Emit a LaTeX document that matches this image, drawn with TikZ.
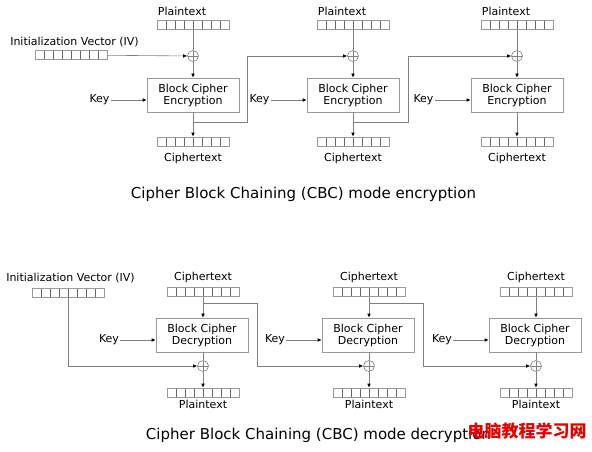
\documentclass[tikz,border=0pt]{standalone}
\usepackage{fontspec}
\setmainfont{DejaVu Sans}
\newfontfamily\cjkfont{Noto Sans CJK SC}
\usetikzlibrary{arrows.meta,positioning}

\tikzset{
  line/.style={draw=gray, line width=0.6pt},
  arr/.style={line, -{Latex[length=4pt,width=3.5pt,color=black]}},
  lbl/.style={font=\fontsize{11}{12}\selectfont, inner sep=1pt},
  title/.style={font=\fontsize{15}{17}\selectfont, inner sep=0pt},
  reg/.style={draw=gray!80, line width=0.6pt, minimum width=72pt, minimum height=9pt, inner sep=0pt,
    path picture={\foreach \k in {1,...,7}
      \draw[gray!80!black, line width=0.5pt] ([xshift=\k*9pt]path picture bounding box.south west)
        -- ([xshift=\k*9pt]path picture bounding box.north west);}},
  xor/.style={circle, draw=gray, line width=0.6pt, minimum size=11pt, inner sep=0pt,
    path picture={\draw[gray, line width=0.6pt]
      (path picture bounding box.north) -- (path picture bounding box.south)
      (path picture bounding box.west) -- (path picture bounding box.east);}},
  cipher/.style={draw=gray!80, line width=0.6pt, minimum width=92pt, minimum height=34pt,
    inner sep=0pt, align=center, font=\fontsize{11}{12}\selectfont},
}

\begin{document}
\begin{tikzpicture}[x=1pt, y=-1pt]

  \fill[white] (0,0) rectangle (592,452);
  \useasboundingbox (0,0) rectangle (592,452);

  % Encryption

  \node[lbl] (ivl) at (74.5,42) {Initialization Vector (IV)};
  \node[reg] (iv) at (71,55) {};

  \foreach \i/\cx in {1/193, 2/353, 3/517} {
    \node[reg] (p\i) at (\cx,25) {};
    \node[lbl, above=3.5pt of p\i.north west, anchor=south west] (pl\i) {Plaintext};
    \node[xor] (x\i) at (\cx,56) {};
    \node[cipher] (e\i) at (\cx,95) {Block Cipher\\Encryption};
    \node[lbl] (k\i) at (\cx-93.5,100) {Key};
    \node[reg] (c\i) at (\cx,141.5) {};
    \node[lbl, below=5.5pt of c\i] (cl\i) {Ciphertext};
    \coordinate (t\i) at (\cx,122);

    \draw[line] (p\i) -- (x\i);
    \draw[arr] (x\i) -- (e\i);
    \draw[arr] (e\i) -- (c\i);
    \draw[arr] (k\i) -- (k\i -| e\i.west);
  }

  \draw[arr] (iv) -- (x1);
  \draw[arr] (t1) -- ++(54,0) |- (x2);
  \draw[arr] (t2) -- ++(55,0) |- (x3);

  \node[title] (enct) at (303.5,194) {Cipher Block Chaining (CBC) mode encryption};

  % Decryption

  \node[lbl] (divl) at (70.5,278) {Initialization Vector (IV)};
  \node[reg] (div) at (68,292.5) {};

  \foreach \i/\cx in {1/203, 2/369, 3/536} {
    \node[reg] (dc\i) at (\cx,292) {};
    \node[lbl, above=3.5pt of dc\i] (dcl\i) {Ciphertext};
    \node[cipher] (d\i) at (\cx-1,335) {Block Cipher\\Decryption};
    \node[lbl] (dk\i) at (\cx-94,340) {Key};
    \node[xor] (dx\i) at (\cx,366) {};
    \node[reg] (dp\i) at (\cx,392.5) {};
    \node[lbl, below=2pt of dp\i] (dpl\i) {Plaintext};
    \coordinate (dt\i) at (\cx,303);

    \draw[arr] (dc\i) -- (dc\i |- d\i.north);
    \draw[line] (d\i.south -| dx\i) -- (dx\i);
    \draw[arr] (dx\i) -- (dp\i);
    \draw[arr] (dk\i) -- (dk\i -| d\i.west);
  }

  \draw[arr] (div) |- (dx1);
  \draw[arr] (dt1) -- ++(54,0) |- (dx2);
  \draw[arr] (dt2) -- ++(54,0) |- (dx3);

  \node[title] (dect) at (318.5,435) {Cipher Block Chaining (CBC) mode decryption};

  \node[font={\cjkfont\bfseries\fontsize{17}{18}\selectfont}, text=red!90!black, inner sep=0pt] (wm) at (527,431) {电脑教程学习网};

\end{tikzpicture}
\end{document}
